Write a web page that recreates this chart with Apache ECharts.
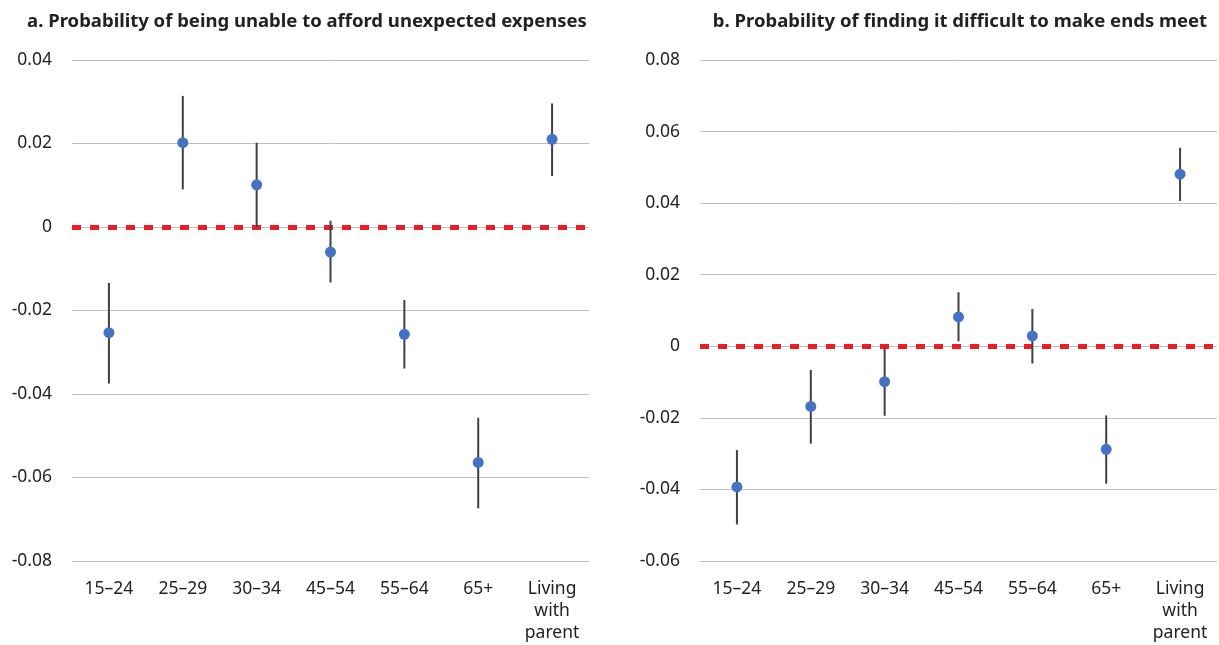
<!DOCTYPE html>
<html>
<head>
<meta charset="utf-8">
<script src="https://cdn.jsdelivr.net/npm/echarts@6/dist/echarts.min.js"></script>
<style>html,body{margin:0;padding:0;background:#fff}#c{width:1219px;height:645px}</style>
</head>
<body>
<div id="c"></div>
<script>
var categories = ['15–24', '25–29', '30–34', '45–54', '55–64', '65+', 'Living\nwith\nparent'];
var titleA = 'a. Probability of being unable to afford unexpected expenses';
var titleB = 'b. Probability of finding it difficult to make ends meet';

var aPoint = [-0.0253, 0.0202, 0.0101, -0.0060, -0.0257, -0.0564, 0.0210];
var aLow   = [-0.0375, 0.0090, 0.0000, -0.0133, -0.0339, -0.0674, 0.0122];
var aHigh  = [-0.0134, 0.0314, 0.0202, 0.0015, -0.0175, -0.0457, 0.0296];

var bPoint = [-0.0393, -0.0168, -0.0099, 0.0082, 0.0029, -0.0288, 0.0481];
var bLow   = [-0.0498, -0.0272, -0.0194, 0.0014, -0.0048, -0.0384, 0.0406];
var bHigh  = [-0.0290, -0.0066, -0.0006, 0.0151, 0.0104, -0.0193, 0.0555];

var aAxis = {min: -0.08, max: 0.04, interval: 0.02};
var bAxis = {min: -0.06, max: 0.08, interval: 0.02};

var FONT = '"Source Sans Pro","Noto Sans",sans-serif';

function yFmt(v) { return Math.abs(v) < 1e-9 ? '0' : v.toFixed(2); }

function errSeries(idx, low, high) {
  var data = categories.map(function (c, i) { return [i, low[i], high[i]]; });
  return {
    type: 'custom', xAxisIndex: idx, yAxisIndex: idx, z: 3,
    data: data,
    renderItem: function (params, api) {
      var p1 = api.coord([api.value(0), api.value(1)]);
      var p2 = api.coord([api.value(0), api.value(2)]);
      return {type: 'line', shape: {x1: p1[0], y1: p1[1], x2: p2[0], y2: p2[1]},
              style: {stroke: '#404040', lineWidth: 2}};
    }
  };
}
function ptSeries(idx, pts) {
  return {
    type: 'scatter', xAxisIndex: idx, yAxisIndex: idx, z: 4,
    symbolSize: 11, itemStyle: {color: '#4472C4', opacity: 1},
    data: pts.map(function (v, i) { return [i, v]; }),
    markLine: {
      silent: true, symbol: 'none', z: 2,
      label: {show: false},
      emphasis: {disabled: true},
      lineStyle: {color: '#EE1C25', width: 5, type: [9, 9], opacity: 1},
      data: [{yAxis: 0}]
    }
  };
}
function xAx(idx) {
  return {
    type: 'category', gridIndex: idx, data: categories,
    axisLine: {show: false}, axisTick: {show: false},
    axisLabel: {color: '#222', fontSize: 17.5, fontFamily: FONT, margin: 17, lineHeight: 22, interval: 0}
  };
}
function yAx(idx, ax) {
  return {
    type: 'value', gridIndex: idx, min: ax.min, max: ax.max, interval: ax.interval,
    axisLine: {show: false}, axisTick: {show: false},
    splitLine: {lineStyle: {color: '#BFBFBF', width: 1}},
    axisLabel: {color: '#222', fontSize: 17.5, fontFamily: FONT, margin: 20, formatter: yFmt}
  };
}

var chart = echarts.init(document.getElementById('c'), null, {renderer: 'canvas'});
chart.setOption({
  animation: false,
  backgroundColor: '#fff',
  title: [
    {text: titleA, left: 302, top: 7, textAlign: 'center',
     textStyle: {fontSize: 18.5, fontWeight: 'bold', color: '#222', fontFamily: FONT}},
    {text: titleB, left: 955, top: 7, textAlign: 'center',
     textStyle: {fontSize: 18.5, fontWeight: 'bold', color: '#222', fontFamily: FONT}}
  ],
  grid: [
    {left: 72, right: 630, top: 60, bottom: 84},
    {left: 700, right: 2, top: 60, bottom: 84}
  ],
  xAxis: [xAx(0), xAx(1)],
  yAxis: [yAx(0, aAxis), yAx(1, bAxis)],
  series: [
    errSeries(0, aLow, aHigh), ptSeries(0, aPoint),
    errSeries(1, bLow, bHigh), ptSeries(1, bPoint)
  ]
});
</script>
</body>
</html>
